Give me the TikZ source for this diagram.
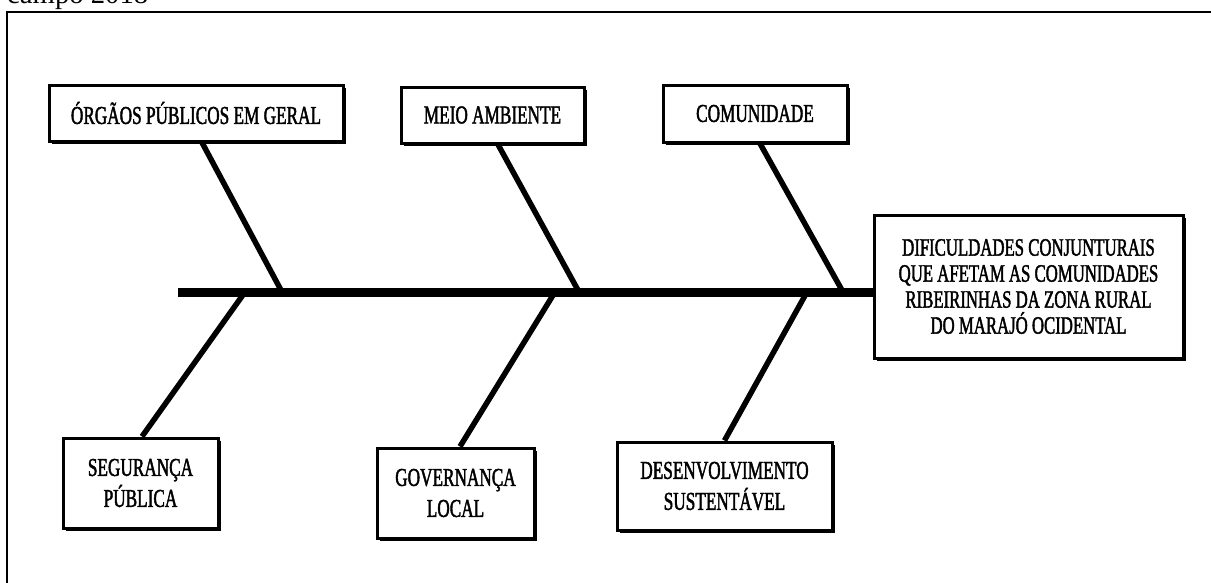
\documentclass[tikz,border=0pt]{standalone}
\usepackage{fontspec}
\setmainfont{Liberation Serif}
\newfontfamily\boxfont[FakeStretch=0.67,FakeBold=1.6]{Liberation Serif}
\usetikzlibrary{shadows}
\tikzset{
  lbl/.style={draw, line width=3pt, fill=white, align=center, inner sep=0pt,
    font=\boxfont\fontsize{25.7}{31}\selectfont,
    drop shadow={shadow xshift=2.5pt, shadow yshift=-2.5pt, fill=black, opacity=1}},
  bone/.style={line width=5.5pt},
  spine/.style={line width=9pt},
  frame/.style={line width=2.5pt}
}
\begin{document}
\begin{tikzpicture}[x=1pt,y=-1pt]
\useasboundingbox (0,0) rectangle (1211,582);
\fill[white] (0,0) rectangle (1211,582);
% caption fragment and frame
\node[anchor=base west, inner sep=0pt, font=\fontsize{28.7}{30}\selectfont] (cap) at (7,3) {campo 2018};
\draw[frame] (1240,12) -- (7,12) -- (7,600);
% boxes
\node[lbl, minimum width=294pt, minimum height=56pt] (org) at (196,113) {ÓRGÃOS PÚBLICOS EM GERAL};
\node[lbl, minimum width=183pt, minimum height=56pt] (meio) at (492.5,115) {MEIO AMBIENTE};
\node[lbl, minimum width=184pt, minimum height=57pt] (comu) at (755,113.5) {COMUNIDADE};
\node[lbl, minimum width=309pt, minimum height=143pt, font=\boxfont\fontsize{25}{26}\selectfont] (head) at (1028.5,286.5)
  {DIFICULDADES CONJUNTURAIS\\QUE AFETAM AS COMUNIDADES\\RIBEIRINHAS DA ZONA RURAL\\DO MARAJÓ OCIDENTAL};
\node[lbl, minimum width=155pt, minimum height=90pt] (seg) at (140.5,483) {SEGURANÇA\\PÚBLICA};
\node[lbl, minimum width=157pt, minimum height=90pt] (gov) at (455.5,493) {GOVERNANÇA\\LOCAL};
\node[lbl, minimum width=215pt, minimum height=88pt] (des) at (724.5,486) {DESENVOLVIMENTO\\SUSTENTÁVEL};
% spine
\coordinate (s0) at (178,292);
\draw[spine] (s0) -- (s0 -| head.west);
% bone feet on the spine
\coordinate (b1) at (282,292);
\coordinate (b2) at (579,292);
\coordinate (b3) at (843,292);
\coordinate (b4) at (245,292);
\coordinate (b5) at (555,292);
\coordinate (b6) at (807,292);
% bones
\draw[bone] ([xshift=6pt]org.south) -- (b1);
\draw[bone] ([xshift=5.5pt]meio.south) -- (b2);
\draw[bone] ([xshift=5pt]comu.south) -- (b3);
\draw[bone] (b4) -- ([xshift=1.5pt]seg.north);
\draw[bone] (b5) -- ([xshift=4.5pt]gov.north);
\draw[bone] (b6) -- (des.north);
\end{tikzpicture}
\end{document}
